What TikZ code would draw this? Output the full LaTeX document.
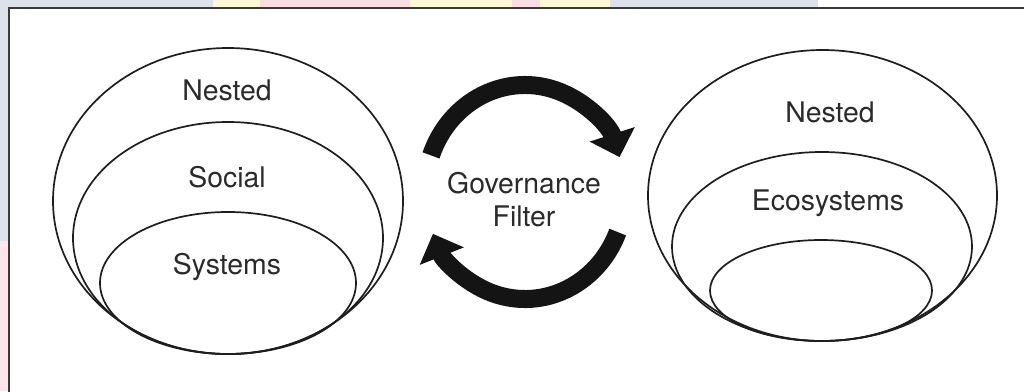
\documentclass[tikz,border=0pt]{standalone}
\usepackage{fontspec}
\setmainfont{TeX Gyre Heros}
\usetikzlibrary{arrows.meta}
\definecolor{pagebg}{HTML}{DDE1EB}
\definecolor{washpink}{HTML}{FADDE2}
\definecolor{washyellow}{HTML}{FDF7D6}
\definecolor{inkline}{HTML}{1E1E1E}
\definecolor{inktext}{HTML}{2A2A2A}
\definecolor{framegray}{HTML}{3A3A3A}
\begin{document}
\begin{tikzpicture}[x=1bp,y=1bp,
  ring/.style={draw=inkline, line width=1.7bp},
  tagtext/.style={text=inktext, font=\fontsize{28.5}{34}\selectfont, inner sep=0pt, align=center},
  cyclearrow/.style={draw=black!92, line width=18bp,
    -{Triangle[length=24bp 0 0, width=46bp 0 0]}}
]
\useasboundingbox (0,0) rectangle (1024,391);

% page backdrop around the panel
\fill[pagebg] (0,0) rectangle (1024,391);
\fill[washyellow] (213,383) rectangle (610,391);
\fill[washpink] (260,383) rectangle (410,391);
\fill[washpink] (512,383) rectangle (540,391);
\fill[white] (818,383) rectangle (1024,391);
\fill[washpink!70] (0,0) rectangle (9,150);

% framed panel
\filldraw[fill=white, draw=framegray, line width=2bp] (9,-10) rectangle (1034,383);

% nested social systems
\draw[ring] (228,190) ellipse [x radius=175bp, y radius=153bp];
\draw[ring] (228,153) ellipse [x radius=155bp, y radius=116bp];
\draw[ring] (228,108) ellipse [x radius=128bp, y radius=71bp];
\node[tagtext] (nestedL) at (227,301) {Nested};
\node[tagtext] (social) at (227,214) {Social};
\node[tagtext] (systems) at (227,124) {Systems};

% nested ecosystems
\draw[ring] (822.5,195.5) ellipse [x radius=174.5bp, y radius=145.5bp];
\draw[ring] (822,144.5) ellipse [x radius=150bp, y radius=94.5bp];
\draw[ring] (821,100.5) ellipse [x radius=111bp, y radius=50.5bp];
\node[tagtext] (nestedR) at (830,279) {Nested};
\node[tagtext] (eco) at (828,188) {Ecosystems};

% governance filter with its feedback cycle
\coordinate (cyc) at (525,199);
\node[tagtext, text depth=0pt] (gov) at (524,192) {Governance\\[-1pt]Filter};
\draw[cyclearrow] (cyc) ++(160:100 and 107)
  arc[start angle=160, end angle=19, x radius=100bp, y radius=107bp];
\draw[cyclearrow] (cyc) ++(-22:100 and 107)
  arc[start angle=-22, end angle=-157, x radius=100bp, y radius=107bp];
\end{tikzpicture}
\end{document}
